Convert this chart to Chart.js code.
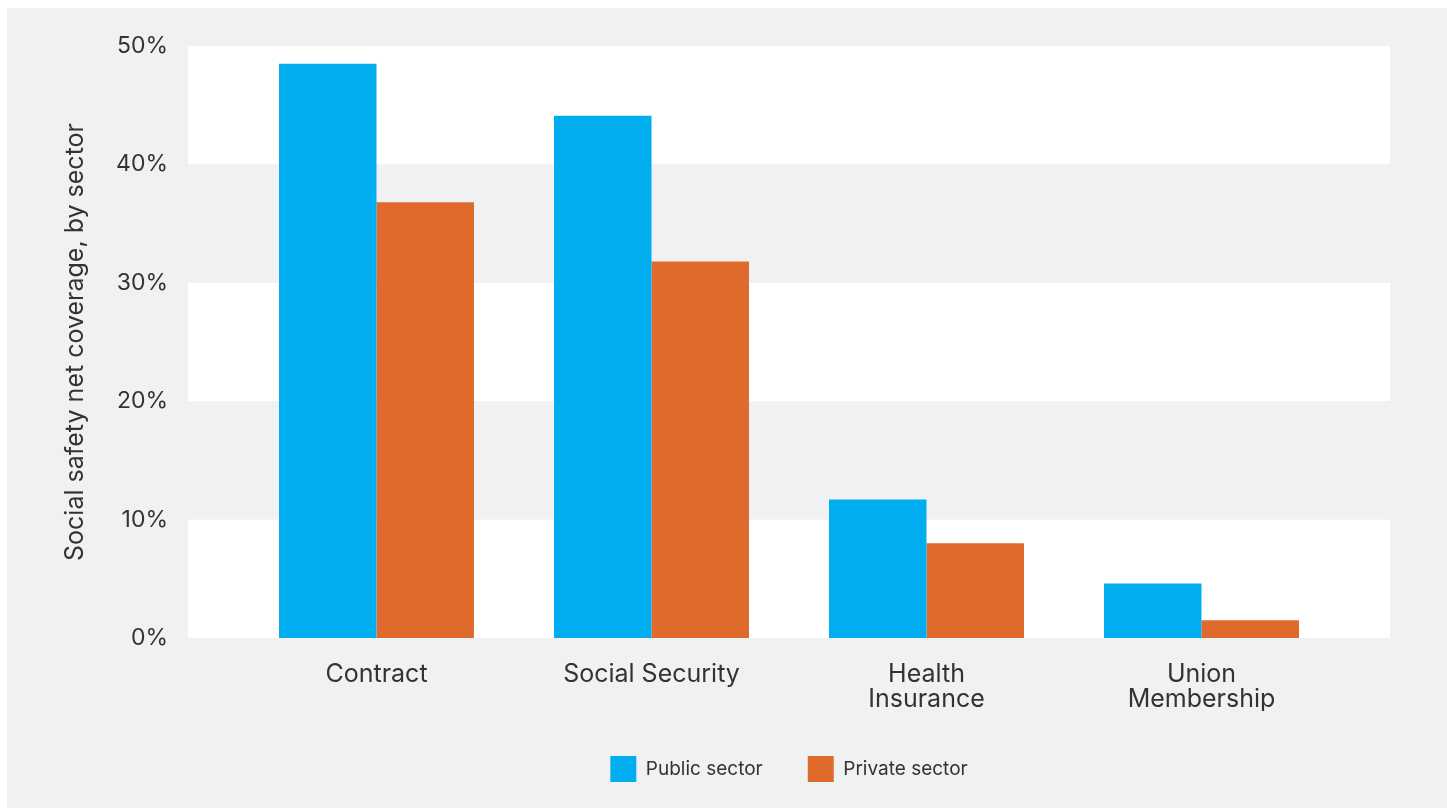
<!DOCTYPE html>
<html>
<head>
<meta charset="utf-8">
<title>Social safety net coverage, by sector</title>
<script src="https://cdn.jsdelivr.net/npm/chart.js@4"></script>
<style>
  html, body { margin: 0; padding: 0; background: #ffffff; }
  #wrap { width: 1447px; height: 809px; position: relative; }
</style>
</head>
<body>
<div id="wrap"><canvas id="chart" width="1447" height="809"></canvas></div>
<script>
// Coverage categories (multi-line labels)
const categories = [
  ["Contract"],
  ["Social Security"],
  ["Health", "Insurance"],
  ["Union", "Membership"]
];

// Share of workers covered, in percent
const publicSector = [48.5, 44.1, 11.7, 4.6];
const privateSector = [36.8, 31.8, 8.0, 1.5];

// Y axis tick values (percent)
const yTickValues = [0, 10, 20, 30, 40, 50];

const seriesNames = ["Public sector", "Private sector"];
const seriesColors = ["#00AEEF", "#E06A2B"];

const FONT = "Inter, 'Open Sans', sans-serif";
const TEXT = "#333333";
const PANEL = "#F0F1F3";

// Page backdrop: white margin with a light grey panel
const panelBackground = {
  id: "panelBackground",
  beforeDraw(chart) {
    const ctx = chart.ctx;
    ctx.save();
    ctx.fillStyle = "#ffffff";
    ctx.fillRect(0, 0, chart.width, chart.height);
    ctx.fillStyle = PANEL;
    ctx.fillRect(7, 8, chart.width - 7, chart.height - 9);
    ctx.restore();
  }
};

// Alternating white bands between y ticks, extended past the category area
const bandFill = {
  id: "bandFill",
  beforeDatasetsDraw(chart) {
    const y = chart.scales.y;
    const area = chart.chartArea;
    const ext = 51;
    const ctx = chart.ctx;
    ctx.save();
    ctx.fillStyle = "#ffffff";
    for (let i = 0; i < yTickValues.length - 1; i++) {
      if (i % 2 !== 0) continue;
      const top = y.getPixelForValue(yTickValues[i + 1]);
      const bottom = y.getPixelForValue(yTickValues[i]);
      ctx.fillRect(area.left - ext, top, area.right - area.left + ext * 2, bottom - top);
    }
    ctx.restore();
  }
};

new Chart(document.getElementById("chart"), {
  type: "bar",
  data: {
    labels: categories,
    datasets: [
      { label: seriesNames[0], data: publicSector, backgroundColor: seriesColors[0], borderWidth: 0 },
      { label: seriesNames[1], data: privateSector, backgroundColor: seriesColors[1], borderWidth: 0 }
    ]
  },
  options: {
    responsive: false,
    animation: false,
    devicePixelRatio: 1,
    layout: { padding: { left: 60, right: 108, top: 46, bottom: 17 } },
    datasets: {
      bar: { categoryPercentage: 0.709, barPercentage: 1.0 }
    },
    scales: {
      x: {
        grid: { display: false, drawTicks: false },
        border: { display: false },
        ticks: {
          color: TEXT,
          padding: 24,
          maxRotation: 0,
          autoSkip: false,
          font: { family: FONT, size: 25, lineHeight: 1.0 }
        },
        afterFit(scale) { scale.height = 73; }
      },
      y: {
        min: 0,
        max: 50,
        afterBuildTicks(scale) {
          scale.ticks = yTickValues.map(v => ({ value: v }));
        },
        grid: { display: false, drawTicks: false },
        border: { display: false },
        ticks: {
          color: TEXT,
          padding: 71,
          font: { family: FONT, size: 23 },
          callback: v => v + "%"
        },
        title: {
          display: true,
          text: "Social safety net coverage, by sector",
          color: TEXT,
          padding: 0,
          font: { family: FONT, size: 25, lineHeight: 1.2 }
        },
        afterFit(scale) {
          scale.width = 179;
          // the wide label gap should not push the plot down
          scale.paddingTop = 12;
          scale.paddingBottom = 12;
        }
      }
    },
    plugins: {
      legend: {
        position: "bottom",
        align: "center",
        fullSize: false,
        labels: {
          boxWidth: 26,
          boxHeight: 26,
          padding: 45,
          color: TEXT,
          font: { family: FONT, size: 19 }
        }
      },
      tooltip: { enabled: false }
    }
  },
  plugins: [panelBackground, bandFill]
});
</script>
</body>
</html>
